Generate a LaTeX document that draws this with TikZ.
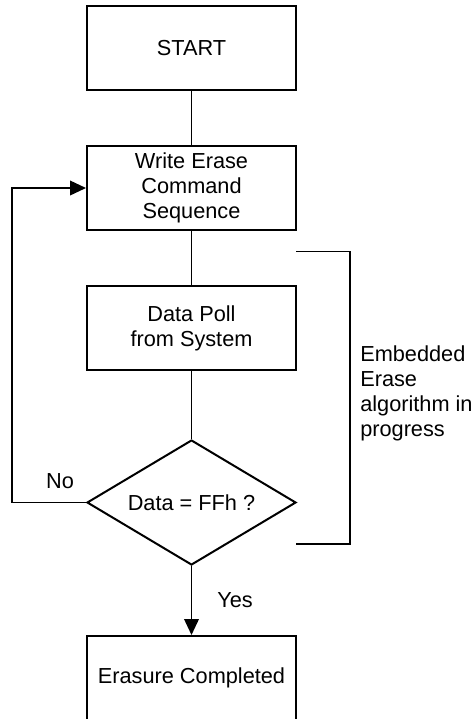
\documentclass[tikz,border=0pt]{standalone}
\usepackage{fontspec}
\setmainfont{Liberation Sans}
\usetikzlibrary{arrows.meta,shapes.geometric}

\begin{document}
\begin{tikzpicture}[x=0.75pt,y=-0.75pt,
        every node/.style={font=\fontsize{16.3}{18.75}\selectfont},
        box/.style={draw,line width=1.5pt,minimum width=156.75pt,minimum height=63pt,align=center,inner sep=0pt},
        test/.style={draw,diamond,line width=1.5pt,aspect=1.67,minimum width=156.75pt,minimum height=93.75pt,inner sep=0pt},
        flow/.style={line width=1.2pt},
        tip/.style={-{Triangle[width=11pt,length=12pt]}}]

        \useasboundingbox (0,0) rectangle (473,719);

        % steps of the flow
        \node[box] (start) at (191.5,48) {START};
        \node[box] (cmd) at (191.5,188) {Write Erase\\Command\\Sequence};
        \node[box] (poll) at (191.5,328) {Data Poll\\from System};
        \node[test] (check) at (191.5,502.5) {Data = FFh ?};
        \node[box] (done) at (191.5,678) {Erasure Completed};

        \draw[flow] (start) -- (cmd);
        \draw[flow] (cmd) -- (poll);
        \draw[flow] (poll) -- (check);
        \draw[flow,tip] (check) -- (done);

        % loop back on No
        \coordinate (back) at (12,502.5);
        \draw[flow,tip] (check.west) -- (back) |- (cmd.west);

        \node (no) at (60,481) {No};
        \node (yes) at (235,600) {Yes};

        % bracket round the embedded part
        \draw[flow] (296,251.5) -| (350,544) -- (296,544);
        \node[anchor=north west,align=left,inner sep=0pt] (algo) at (360,345) {Embedded\\Erase\\algorithm in\\progress};

\end{tikzpicture}
\end{document}
